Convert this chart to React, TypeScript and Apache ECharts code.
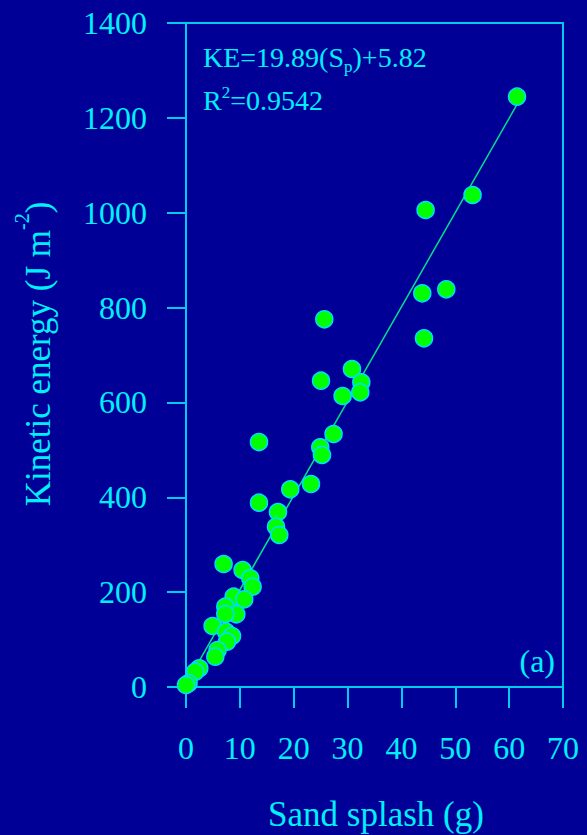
import React, { useEffect, useRef } from "react";
import * as echarts from "echarts";

const xTicks = [0, 10, 20, 30, 40, 50, 60, 70];
const yTicks = [0, 200, 400, 600, 800, 1000, 1200, 1400];

const sandSplash = [
  61.46, 53.21, 44.49, 48.33, 43.87, 44.19, 25.68, 30.82, 25.07, 32.55,
  32.36, 29.08, 27.4, 24.93, 25.25, 13.55, 23.21, 19.36, 13.55, 17.08,
  16.71, 17.32, 6.98, 10.51, 11.94, 12.37, 8.84, 10.82, 7.3, 9.34,
  7.3, 4.94, 7.43, 8.54, 7.61, 5.87, 5.44, 2.47, 1.73, 0.48, 0.0,
];
const kineticEnergy = [
  1244.6, 1037.3, 1005.7, 838.5, 830.1, 735.2, 775.3, 670.5, 645.8, 642.4,
  621.3, 613.5, 533.4, 505.4, 489.1, 516.5, 428.0, 416.8, 388.6, 369.0,
  338.0, 320.5, 259.3, 246.7, 229.2, 211.5, 190.4, 184.9, 169.3, 153.3,
  153.9, 128.6, 116.6, 107.5, 95.5, 78.0, 63.9, 39.4, 32.3, 7.8, 4.2,
];

const slope = 19.89;
const intercept = 5.82;
const fitRange = [0, 61.46];

const BG = "#000096";
const TXT = "#00F0FF";
const LINE = "#00CCEE";
const FONT = "'Liberation Serif', 'Times New Roman', serif";

let measureCtx: CanvasRenderingContext2D | null = null;
function tw(text: string, size: number): number {
  if (!measureCtx) measureCtx = document.createElement("canvas").getContext("2d");
  if (!measureCtx) return text.length * size * 0.5;
  measureCtx.font = `${size}px 'Liberation Serif'`;
  return measureCtx.measureText(text).width;
}

function txt(text: string, x: number, y: number, size: number, align = "left") {
  return {
    type: "text",
    x,
    y,
    style: { text, align, verticalAlign: "middle", fontSize: size, fontFamily: FONT, fill: TXT },
  };
}

export default function App() {
  const ref = useRef<HTMLDivElement>(null);
  useEffect(() => {
    if (!ref.current) return;
    const chart = echarts.init(ref.current, undefined, { renderer: "svg" });
    const points = sandSplash.map((x, i) => [x, kineticEnergy[i]]);
    const fit = fitRange.map((x) => [x, slope * x + intercept]);
    const axisLineStyle = { color: LINE, width: 2 };

    // equation line
    const ke1 = "KE=19.89(S";
    const ke2 = "p";
    const ke3 = ")+5.82";
    const x0 = 203;
    const w1 = tw(ke1, 28);
    const w2 = tw(ke2, 17);
    const r1 = "R";
    const r2 = "2";
    const r3 = "=0.9542";
    const wr1 = tw(r1, 28);
    const wr2 = tw(r2, 17);

    // y title
    const y1 = "Kinetic energy (J m";
    const y2 = "-2";
    const y3 = ")";
    const wy1 = tw(y1, 35);
    const wy2 = tw(y2, 20);
    const wy3 = tw(y3, 35);
    const W = wy1 + wy2 + wy3;
    const sx = -W / 2;

    chart.setOption({
      animation: false,
      backgroundColor: BG,
      grid: { left: 186, top: 23, right: 24, bottom: 148, containLabel: false },
      xAxis: [
        {
          type: "value",
          min: xTicks[0],
          max: xTicks[xTicks.length - 1],
          interval: 10,
          position: "bottom",
          axisLine: { show: true, onZero: false, lineStyle: axisLineStyle },
          axisTick: { show: true, length: 21, lineStyle: axisLineStyle },
          axisLabel: {
            margin: 45,
            fontSize: 32,
            color: TXT,
            fontFamily: FONT,
            formatter: (v: number) => String(v),
          },
          splitLine: { show: false },
        },
        {
          type: "value",
          min: xTicks[0],
          max: xTicks[xTicks.length - 1],
          position: "top",
          axisLine: { show: true, onZero: false, lineStyle: axisLineStyle },
          axisTick: { show: false },
          axisLabel: { show: false },
          splitLine: { show: false },
        },
      ],
      yAxis: [
        {
          type: "value",
          min: yTicks[0],
          max: yTicks[yTicks.length - 1],
          interval: 200,
          position: "left",
          axisLine: { show: true, onZero: false, lineStyle: axisLineStyle },
          axisTick: { show: true, length: 19, lineStyle: axisLineStyle },
          axisLabel: {
            margin: 39,
            fontSize: 32,
            color: TXT,
            fontFamily: FONT,
            formatter: (v: number) => String(v),
          },
          splitLine: { show: false },
        },
        {
          type: "value",
          min: yTicks[0],
          max: yTicks[yTicks.length - 1],
          position: "right",
          axisLine: { show: true, onZero: false, lineStyle: axisLineStyle },
          axisTick: { show: false },
          axisLabel: { show: false },
          splitLine: { show: false },
        },
      ],
      series: [
        {
          type: "line",
          data: fit,
          xAxisIndex: 0,
          yAxisIndex: 0,
          showSymbol: false,
          symbol: "none",
          lineStyle: { color: "#00E08C", width: 1.5 },
          z: 2,
        },
        {
          type: "scatter",
          data: points,
          xAxisIndex: 0,
          yAxisIndex: 0,
          symbol: "circle",
          symbolSize: 17,
          itemStyle: { color: "#00FF00", borderColor: "#00DDFF", borderWidth: 1.5, opacity: 1 },
          z: 3,
        },
      ],
      graphic: [
        txt(ke1, x0, 57, 28),
        txt(ke2, x0 + w1, 66.3, 17),
        txt(ke3, x0 + w1 + w2, 57, 28),
        txt(r1, x0, 100.5, 28),
        txt(r2, x0 + wr1, 92.3, 17),
        txt(r3, x0 + wr1 + wr2, 100.5, 28),
        txt("(a)", 555, 661, 32, "right"),
        txt("Sand splash (g)", 376, 814, 35, "center"),
        {
          type: "group",
          x: 38,
          y: 354,
          rotation: Math.PI / 2,
          children: [
            txt(y1, sx, 0, 35),
            txt(y2, sx + wy1, -16, 20),
            txt(y3, sx + wy1 + wy2, 0, 35),
          ],
        },
      ],
    });
    return () => chart.dispose();
  }, []);
  return (
    <div style={{ position: "fixed", left: 0, top: 0, width: 587, height: 835, background: BG }}>
      <div ref={ref} style={{ width: 587, height: 835 }} />
    </div>
  );
}
